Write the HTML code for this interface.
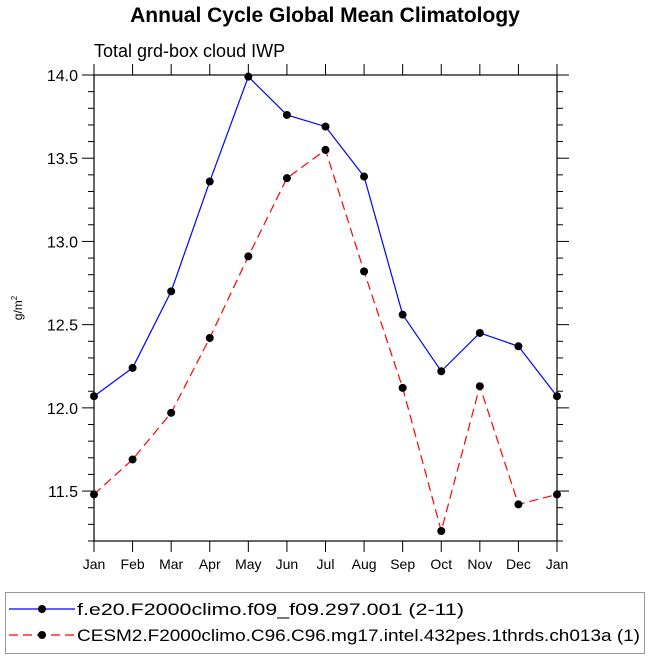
<!DOCTYPE html>
<html><head><meta charset="utf-8"><style>
body{margin:0;background:#fff;width:650px;height:660px;overflow:hidden}
svg{display:block;font-family:"Liberation Sans",sans-serif}
</style></head><body>
<svg id="chart" width="650" height="660">
<text x="325" y="22" text-anchor="middle" font-size="21" font-weight="bold">Annual Cycle Global Mean Climatology</text>
<text x="94" y="57" font-size="18">Total grd-box cloud IWP</text>
<text transform="translate(22,308) rotate(-90)" text-anchor="middle" font-size="12">g/m<tspan font-size="8" dy="-5">2</tspan></text>
<g id="axes"></g><g id="series"></g>
<rect x="5.5" y="592.5" width="639" height="61" fill="none" stroke="#999"/>
<g>
<line x1="9" y1="609" x2="75" y2="609" stroke="#0000ff" stroke-width="1.2"/>
<circle cx="42" cy="609" r="4" fill="#000"/>
<text x="77" y="615" font-size="17" textLength="387" lengthAdjust="spacingAndGlyphs">f.e20.F2000climo.f09_f09.297.001 (2-11)</text></g>
<g>
<line x1="9" y1="635" x2="75" y2="635" stroke="#ff0000" stroke-width="1.2" stroke-dasharray="9,5"/>
<circle cx="42" cy="635" r="4" fill="#000"/>
<text x="77" y="641" font-size="17" textLength="563" lengthAdjust="spacingAndGlyphs">CESM2.F2000climo.C96.C96.mg17.intel.432pes.1thrds.ch013a (1)</text></g>
</svg>
<script>
const months=["Jan","Feb","Mar","Apr","May","Jun","Jul","Aug","Sep","Oct","Nov","Dec","Jan"];
const blueVals=[12.07,12.24,12.70,13.36,13.99,13.76,13.69,13.39,12.56,12.22,12.45,12.37,12.07];
const redVals=[11.48,11.69,11.97,12.42,12.91,13.38,13.55,12.82,12.12,11.26,12.13,11.42,11.48];
const yTicks=[11.5,12.0,12.5,13.0,13.5,14.0];
const yMin=11.2,yMax=14.0;
const L=94,R=557,T=75,B=541;
const ns="http://www.w3.org/2000/svg";
function X(i){return L+(R-L)*i/(months.length-1);}
function Y(v){return B-(B-T)*(v-yMin)/(yMax-yMin);}
function mk(t,a,p){const e=document.createElementNS(ns,t);for(const k in a)e.setAttribute(k,a[k]);p.appendChild(e);return e;}
const ax=document.getElementById('axes');
const fr=mk('rect',{x:L,y:T,width:R-L,height:B-T,fill:'none',stroke:'#000','stroke-width':1.2},ax);


for(let v=yMin;v<=yMax+1e-6;v+=0.1){const y=Y(v);const major=yTicks.some(t=>Math.abs(t-v)<1e-6);
const len=major?12:6;
mk('line',{x1:L-len,y1:y,x2:L,y2:y,stroke:'#000'},ax);
mk('line',{x1:R,y1:y,x2:R+len,y2:y,stroke:'#000'},ax);}
yTicks.forEach(t=>{const e=mk('text',{x:L-16,y:Y(t)+6,'text-anchor':'end','font-size':16},ax);e.textContent=t.toFixed(1);

});
months.forEach((m,i)=>{mk('line',{x1:X(i),y1:B,x2:X(i),y2:B+11,stroke:'#000'},ax);
mk('line',{x1:X(i),y1:T-11,x2:X(i),y2:T,stroke:'#000'},ax);
const e=mk('text',{x:X(i),y:B+28,'text-anchor':'middle','font-size':14},ax);e.textContent=m;

});
const sg=document.getElementById('series');
function series(vals,col,dash,name){
const p=mk('polyline',{points:vals.map((v,i)=>X(i)+','+Y(v)).join(' '),fill:'none',stroke:col,'stroke-width':1.2,'stroke-dasharray':dash},sg);


vals.forEach((v,i)=>{const c=mk('circle',{cx:X(i),cy:Y(v),r:4,fill:'#000'},sg);

});}
series(blueVals,'#0000ff','none','blue-series');
series(redVals,'#ff0000','9,5','red-series');
</script>
</body></html>
